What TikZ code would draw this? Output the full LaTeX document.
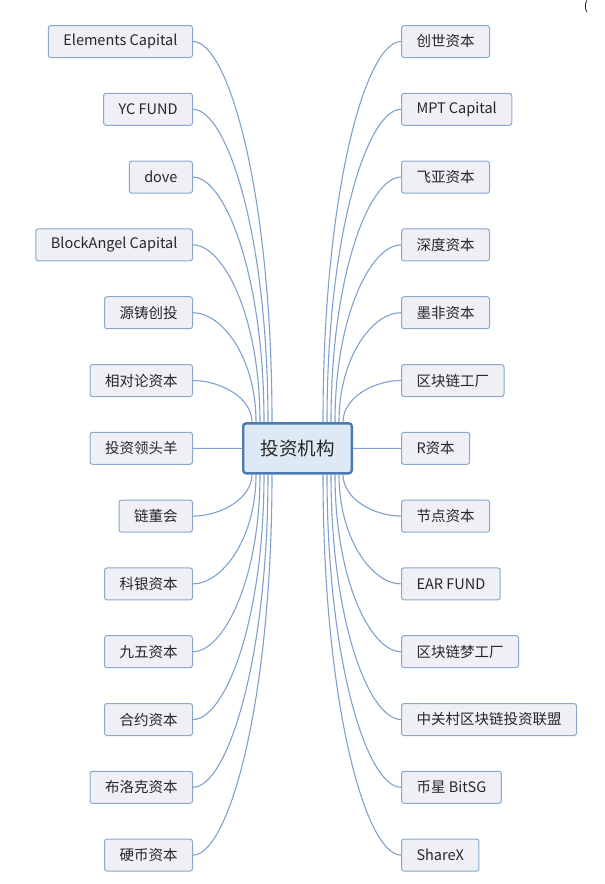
\documentclass[tikz,border=0pt]{standalone}
\usepackage{fontspec}
\setmainfont{Noto Sans CJK SC}
\usetikzlibrary{calc}

\definecolor{leaffill}{HTML}{EEF0F6}
\definecolor{leafline}{HTML}{8AA8CE}
\definecolor{hubfill}{HTML}{DDEAF6}
\definecolor{hubline}{HTML}{4A7BAE}
\definecolor{branchline}{HTML}{7FA1CB}
\definecolor{ink}{HTML}{262626}

\tikzset{
  leaf/.style={draw=leafline, fill=leaffill, rounded corners=2.5pt, line width=1pt,
    minimum height=32pt, inner xsep=15pt, inner ysep=0pt, text=ink,
    font=\fontsize{14.5}{16}\selectfont},
  hub/.style={draw=hubline, fill=hubfill, rounded corners=3pt, line width=2.4pt,
    minimum height=50pt, inner xsep=17.3pt, text=ink,
    font=\fontsize{18.5}{20}\selectfont},
  branch/.style={draw=branchline, line width=1.1pt}
}

\begin{document}
\begin{tikzpicture}[x=1pt,y=-1pt]
\useasboundingbox (0,0) rectangle (605,884);

\node[hub] (hub) at (297.5,448.3) {投资机构};

% left column
\foreach \name [count=\i from 0] in {Elements Capital, YC FUND, dove, BlockAngel Capital,
    源铸创投, 相对论资本, 投资领头羊, 链董会, 科银资本, 九五资本, 合约资本, 布洛克资本, 硬币资本} {
  \pgfmathsetmacro\yy{41.5+67.8*\i}
  \node[leaf, anchor=east] (left\i) at (193,\yy) {\name};
}

% right column
\foreach \name [count=\i from 0] in {创世资本, MPT Capital, 飞亚资本, 深度资本, 墨非资本,
    区块链工厂, R资本, 节点资本, EAR FUND, 区块链梦工厂, 中关村区块链投资联盟, 币星 BitSG, ShareX} {
  \pgfmathsetmacro\yy{41.5+67.8*\i}
  \node[leaf, anchor=west] (right\i) at (401,\yy) {\name};
}

% branches above the hub
\foreach \i in {0,...,5} {
  \pgfmathsetmacro\off{30-4*\i}
  \pgfmathsetmacro\rise{0.6*(422-(41.5+67.8*\i))}
  \pgfmathsetmacro\reach{0.45*(49+\off)}
  \coordinate (lin\i) at ($(hub.north west)+(\off,0)$);
  \coordinate (rin\i) at ($(hub.north east)+(-\off,0)$);
  \draw[branch] (left\i.east) .. controls +(\reach,0) and +(0,-\rise) .. (lin\i);
  \draw[branch] (rin\i) .. controls +(0,-\rise) and +(-\reach,0) .. (right\i.west);
}

% branches below the hub
\foreach \i in {7,...,12} {
  \pgfmathsetmacro\off{30-4*(12-\i)}
  \pgfmathsetmacro\drop{0.6*((41.5+67.8*\i)-475)}
  \pgfmathsetmacro\reach{0.45*(49+\off)}
  \coordinate (lout\i) at ($(hub.south west)+(\off,0)$);
  \coordinate (rout\i) at ($(hub.south east)+(-\off,0)$);
  \draw[branch] (left\i.east) .. controls +(\reach,0) and +(0,\drop) .. (lout\i);
  \draw[branch] (rout\i) .. controls +(0,\drop) and +(-\reach,0) .. (right\i.west);
}

% straight ones
\draw[branch] (left6.east) -- (hub.west);
\draw[branch] (hub.east) -- (right6.west);

\node[anchor=north, inner sep=0pt, font=\fontsize{12}{13}\selectfont] (paren) at (586,0.8) {(};
\end{tikzpicture}
\end{document}
